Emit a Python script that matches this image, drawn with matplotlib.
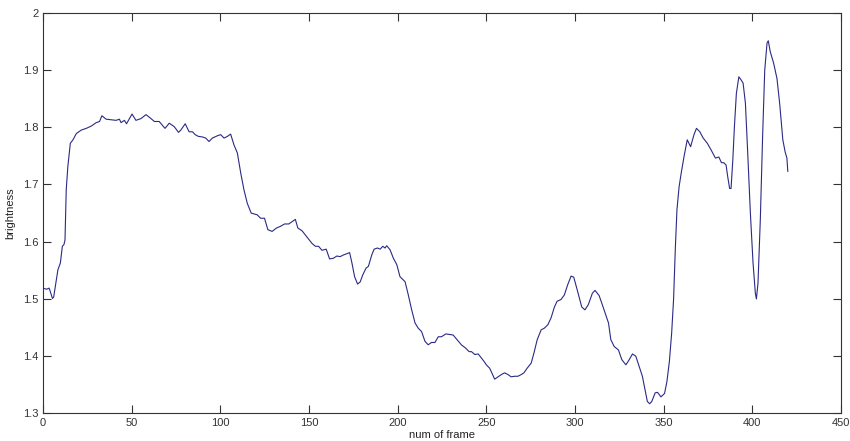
import matplotlib
matplotlib.use("Agg")
import matplotlib.pyplot as plt

# values
frames = [
    0, 2, 3.4, 4, 5.3, 6, 7.5, 8.4, 9.8, 10.9, 11.8, 12.4, 13.1, 14.0, 15.4,
    16.9, 18.8, 21.6, 24.4, 27.2, 30.0, 31.9, 33.2, 35.6, 38.4, 41.2, 43.1,
    44.0, 45.9, 47.1, 50.2, 52.4, 55.2, 58.1, 60.9, 62.8, 65.5, 68.8, 71.2,
    74.0, 76.4, 77.7, 80.2, 82.4, 84.3, 85.8, 87.6, 89.9, 91.8, 93.6, 95.5,
    98.3, 100.2, 102.1, 104.0, 105.8, 107.7, 109.6, 111.5, 113.3, 115.2,
    117.4, 120.8, 122.7, 124.9, 126.8, 129.2, 131.7, 134.0, 136.2, 138.6,
    140.5, 142.3, 143.7, 146.1, 148.9, 151.7, 153.6, 155.4, 157.3, 159.7,
    161.6, 163.7, 165.7, 167.6, 169.5, 171.3, 172.9, 174.2, 175.7, 177.4,
    178.9, 180.3, 182.2, 183.5, 185.4, 186.7, 188.6, 190.1, 191.6, 192.9,
    193.8, 195.7, 197.6, 199.5, 201.3, 204.2, 206.0, 207.9, 209.8, 211.6,
    213.5, 215.4, 217.2, 219.1, 221.0, 222.9, 224.7, 227.2, 229.4, 231.3,
    233.5, 235.9, 238.4, 240.3, 241.6, 243.5, 245.4, 247.2, 248.7, 250.0,
    251.9, 254.7, 256.6, 258.5, 260.3, 262.2, 264.0, 265.9, 267.8, 269.7,
    271.2, 273.0, 275.3, 276.8, 278.7, 280.9, 282.7, 284.7, 286.5, 288.4,
    289.9, 292.1, 294.0, 295.9, 297.8, 299.3, 301.5, 303.8, 305.6, 307.5,
    309.8, 311.3, 313.6, 315.4, 317.9, 318.9, 320.2, 322.1, 324.5, 326.4,
    328.7, 330.6, 332.4, 334.3, 336.2, 338.0, 339.5, 340.8, 342.1, 343.3,
    345.2, 346.5, 348.5, 350.5, 351.8, 353.2, 354.5, 355.6, 356.6, 357.5,
    358.7, 359.9, 361.5, 363.3, 365.2, 367.1, 368.5, 370.4, 372.3, 374.6,
    376.8, 379.2, 381.1, 382.6, 383.9, 385.2, 386.1, 387.2, 388.0, 389.0,
    389.9, 391.0, 392.4, 393.6, 394.8, 396.1, 397.4, 398.9, 400.4, 401.7,
    402.3, 403.2, 404.5, 405.8, 407.0, 408.3, 409.0, 410.1, 412.0, 413.9,
    415.4, 417.2, 418.5, 419.5, 420.0,
]
brightness = [
    1.519, 1.517, 1.519, 1.514, 1.501, 1.503, 1.533, 1.551, 1.563, 1.592,
    1.595, 1.603, 1.691, 1.731, 1.772, 1.778, 1.789, 1.795, 1.798, 1.802,
    1.808, 1.810, 1.820, 1.814, 1.813, 1.812, 1.814, 1.808, 1.812, 1.806,
    1.823, 1.812, 1.815, 1.822, 1.815, 1.810, 1.810, 1.798, 1.807, 1.801,
    1.791, 1.795, 1.806, 1.792, 1.792, 1.787, 1.784, 1.783, 1.781, 1.775,
    1.781, 1.785, 1.787, 1.781, 1.784, 1.788, 1.769, 1.755, 1.720, 1.691,
    1.667, 1.650, 1.647, 1.641, 1.641, 1.621, 1.618, 1.624, 1.627, 1.631,
    1.631, 1.635, 1.639, 1.624, 1.619, 1.608, 1.597, 1.592, 1.592, 1.585,
    1.587, 1.570, 1.571, 1.575, 1.574, 1.577, 1.579, 1.581, 1.563, 1.539,
    1.526, 1.530, 1.542, 1.554, 1.557, 1.577, 1.587, 1.589, 1.587, 1.592,
    1.589, 1.593, 1.586, 1.571, 1.560, 1.539, 1.530, 1.507, 1.481, 1.458,
    1.449, 1.443, 1.426, 1.420, 1.424, 1.424, 1.434, 1.434, 1.439, 1.438,
    1.437, 1.429, 1.420, 1.414, 1.408, 1.408, 1.403, 1.404, 1.397, 1.391,
    1.385, 1.379, 1.360, 1.364, 1.368, 1.371, 1.368, 1.364, 1.365, 1.365,
    1.368, 1.371, 1.379, 1.388, 1.405, 1.429, 1.446, 1.449, 1.455, 1.467,
    1.486, 1.496, 1.499, 1.507, 1.525, 1.540, 1.538, 1.513, 1.486, 1.481,
    1.490, 1.510, 1.515, 1.506, 1.490, 1.467, 1.458, 1.429, 1.417, 1.411,
    1.394, 1.385, 1.394, 1.404, 1.400, 1.382, 1.365, 1.341, 1.321, 1.317,
    1.321, 1.336, 1.337, 1.329, 1.335, 1.355, 1.390, 1.440, 1.500, 1.590,
    1.656, 1.696, 1.720, 1.749, 1.778, 1.766, 1.787, 1.798, 1.792, 1.781,
    1.772, 1.760, 1.746, 1.748, 1.738, 1.738, 1.734, 1.714, 1.693, 1.693,
    1.743, 1.801, 1.859, 1.888, 1.883, 1.877, 1.842, 1.755, 1.650, 1.563,
    1.510, 1.500, 1.528, 1.638, 1.784, 1.900, 1.947, 1.951, 1.932, 1.912,
    1.885, 1.842, 1.778, 1.757, 1.746, 1.723,
]
x_ticks = [0, 50, 100, 150, 200, 250, 300, 350, 400, 450]
y_ticks = [1.3, 1.4, 1.5, 1.6, 1.7, 1.8, 1.9, 2.0]
y_tick_labels = ["1.3", "1.4", "1.5", "1.6", "1.7", "1.8", "1.9", "2"]

plt.rcParams["font.family"] = ["Liberation Sans", "DejaVu Sans"]

fig = plt.figure(figsize=(8.5, 4.41), dpi=100)
ax = fig.add_axes([0.0506, 0.0624, 0.9388, 0.9088])
ax.plot(frames, brightness, color="#2a2a86", linewidth=0.8)

ax.set_xlim(0, 450)
ax.set_ylim(1.3, 2.0)
ax.set_xticks(x_ticks)
ax.set_yticks(y_ticks)
ax.set_yticklabels(y_tick_labels)
ax.tick_params(direction="in", length=5.5, width=0.8, color="#333333",
               labelsize=8, labelcolor="#333333", pad=3,
               top=True, right=True)
for s in ax.spines.values():
    s.set_color("#333333")
    s.set_linewidth(0.8)

ax.set_xlabel("num of frame", fontsize=8, color="#222222", labelpad=2)
ax.set_ylabel("brightness", fontsize=8, color="#222222", labelpad=6)

fig.savefig("out.png", dpi=100)
